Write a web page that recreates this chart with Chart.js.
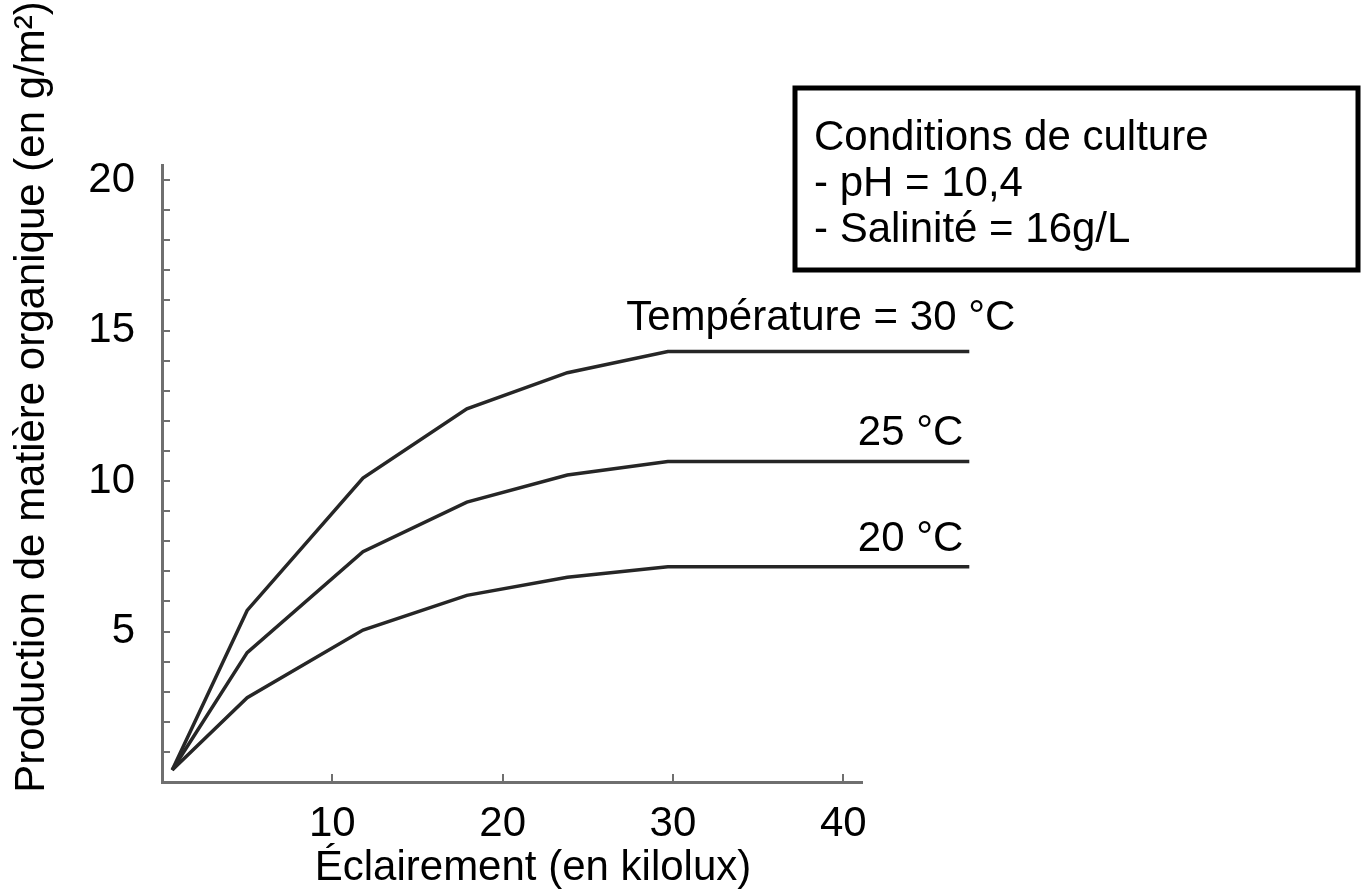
<!DOCTYPE html>
<html lang="fr">
<head>
<meta charset="utf-8">
<title>Production de matière organique</title>
<script src="https://cdn.jsdelivr.net/npm/chart.js@4.4.0/dist/chart.umd.min.js"></script>
<style>
  html, body { margin: 0; padding: 0; background: #fff; }
  canvas { display: block; }
</style>
</head>
<body>
<canvas id="grafico" width="1368" height="889"></canvas>
<script>
// Données
const eclairement = [0.6, 5, 11.8, 17.9, 23.8, 29.7, 47.4];
const temp30 = [0.4, 5.7, 10.1, 12.4, 13.6, 14.3, 14.3];
const temp25 = [0.4, 4.3, 7.65, 9.3, 10.2, 10.65, 10.65];
const temp20 = [0.4, 2.8, 5.05, 6.2, 6.8, 7.15, 7.15];
const etiquettes = ["Température = 30 °C", "25 °C", "20 °C"];

// Graduations
const ticksX = [10, 20, 30, 40];
const ticksY = [1, 2, 3, 4, 5, 6, 7, 8, 9, 10, 11, 12, 13, 14, 15, 16, 17, 18, 19, 20];
const labelsY = [5, 10, 15, 20];

const titreX = "Éclairement (en kilolux)";
const titreY = "Production de matière organique (en g/m²)";
const conditions = ["Conditions de culture", "- pH = 10,4", "- Salinité = 16g/L"];

const police = "'Liberation Sans', Arial, sans-serif";
const gris = "#6f6f6f";
const trait = "#262626";

function points(valeurs) {
  return eclairement.map((x, i) => ({ x: x, y: valeurs[i] }));
}

function serie(label, valeurs) {
  return {
    label: label,
    data: points(valeurs),
    borderColor: trait,
    borderWidth: 3.5,
    pointRadius: 0,
    tension: 0,
    clip: false
  };
}

// Décalage des étiquettes par rapport au bout de chaque courbe
const decalages = [
  { dx: 46, dy: -22 },
  { dx: -6, dy: -16 },
  { dx: -6, dy: -16 }
];

// Textes dessinés à la main : titres, étiquettes, encadré
const textes = {
  id: "textes",
  afterDraw(chart) {
    const c = chart.ctx;
    c.save();
    c.fillStyle = "#000";
    c.font = "42px " + police;

    // titre axe X
    c.textAlign = "center";
    c.textBaseline = "alphabetic";
    c.fillText(titreX, 533, 880);

    // titre axe Y
    c.save();
    c.translate(44, 397);
    c.rotate(-Math.PI / 2);
    c.fillText(titreY, 0, 0);
    c.restore();

    // étiquettes des courbes
    c.textAlign = "right";
    chart.data.datasets.forEach((ds, i) => {
      const meta = chart.getDatasetMeta(i);
      const fin = meta.data[meta.data.length - 1];
      c.fillText(etiquettes[i], fin.x + decalages[i].dx, fin.y + decalages[i].dy);
    });

    // encadré conditions
    c.lineWidth = 5;
    c.strokeStyle = "#000";
    c.strokeRect(795, 88, 563, 182);
    c.textAlign = "left";
    conditions.forEach((ligne, i) => {
      c.fillText(ligne, 814, 150 + i * 46);
    });
    c.restore();
  }
};

const ctx = document.getElementById("grafico").getContext("2d");
new Chart(ctx, {
  type: "line",
  data: {
    datasets: [
      serie("30 °C", temp30),
      serie("25 °C", temp25),
      serie("20 °C", temp20)
    ]
  },
  options: {
    responsive: false,
    animation: false,
    devicePixelRatio: 1,
    layout: { padding: { left: 0, top: 165, right: 506, bottom: 0 } },
    plugins: {
      legend: { display: false },
      tooltip: { enabled: false }
    },
    scales: {
      x: {
        type: "linear",
        min: 0,
        max: 41.1,
        afterFit: s => { s.height = 107; },
        afterBuildTicks: s => { s.ticks = ticksX.map(v => ({ value: v })); },
        border: { display: true, color: gris, width: 3 },
        grid: { drawOnChartArea: false, drawTicks: true, tickLength: -8, color: gris, lineWidth: 2 },
        ticks: { color: "#000", padding: 25, autoSkip: false, font: { size: 42, family: police }, maxRotation: 0 }
      },
      y: {
        type: "linear",
        min: 0,
        max: 20.5,
        afterFit: s => { s.width = 162; },
        afterBuildTicks: s => { s.ticks = ticksY.map(v => ({ value: v })); },
        border: { display: true, color: gris, width: 3 },
        grid: { drawOnChartArea: false, drawTicks: true, tickLength: -8, color: gris, lineWidth: 2 },
        ticks: {
          color: "#000",
          padding: 35,
          autoSkip: false,
          font: { size: 42, family: police },
          callback: v => labelsY.includes(v) ? String(v) : ""
        }
      }
    }
  },
  plugins: [textes]
});
</script>
</body>
</html>
